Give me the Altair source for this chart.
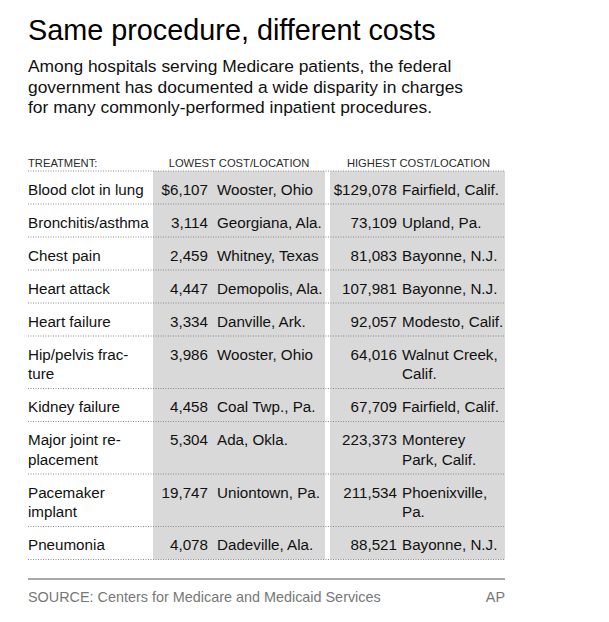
import altair as alt
import pandas as pd

# ---------------- data ----------------
title_text = "Same procedure, different costs"
subtitle_lines = [
    "Among hospitals serving Medicare patients, the federal",
    "government has documented a wide disparity in charges",
    "for many commonly-performed inpatient procedures.",
]
header_labels = ["TREATMENT:", "LOWEST COST/LOCATION", "HIGHEST COST/LOCATION"]

treatments = [
    "Blood clot in lung", "Bronchitis/asthma", "Chest pain", "Heart attack",
    "Heart failure", "Hip/pelvis frac-\nture", "Kidney failure",
    "Major joint re-\nplacement", "Pacemaker\nimplant", "Pneumonia",
]
lowest_cost = [6107, 3114, 2459, 4447, 3334, 3986, 4458, 5304, 19747, 4078]
lowest_loc = [
    "Wooster, Ohio", "Georgiana, Ala.", "\u00a0Whitney, Texas", "Demopolis, Ala.",
    "Danville, Ark.", "Wooster, Ohio", "Coal Twp., Pa.", "Ada, Okla.",
    "Uniontown, Pa.", "Dadeville, Ala.",
]
highest_cost = [129078, 73109, 81083, 107981, 92057, 64016, 67709, 223373, 211534, 88521]
highest_loc = [
    "Fairfield, Calif.", "Upland, Pa.", "Bayonne, N.J.", "Bayonne, N.J.",
    "Modesto, Calif.", "Walnut Creek,\nCalif.", "Fairfield, Calif.",
    "Monterey\nPark, Calif.", "Phoenixville,\nPa.", "Bayonne, N.J.",
]
source_text = "SOURCE: Centers for Medicare and Medicaid Services"
credit_text = "AP"

# ---------------- layout ----------------
W, H, OFF = 593, 606, 8
FONT = "Liberation Sans, Arial, Helvetica, sans-serif"

LEFT, RIGHT = 28, 505
TABLE_TOP = 171
SINGLE_H, DOUBLE_H = 33, 52.5
FIRST_BASE, LINE_STEP = 23.5, 19.5
X_TREAT, X_LCOST, X_LLOC, X_HCOST, X_HLOC = 28, 208, 217, 397, 402
BAND1 = (153, 325)
BAND2 = (330, 505)
ROW_SIZE = 15.2

xs = alt.Scale(domain=[OFF, OFF + W], range=[0, W], nice=False, zero=False)
ys = alt.Scale(domain=[OFF, OFF + H], range=[0, H], nice=False, zero=False)


def fmt(v, first):
    return ("$" if first else "") + f"{v:,}"


left_cells, right_cells, rule_rows = [], [], [{"y": TABLE_TOP}]
top = TABLE_TOP
for i in range(len(treatments)):
    cells = [
        (treatments[i], X_TREAT, "L"),
        (fmt(lowest_cost[i], i == 0), X_LCOST, "R"),
        (lowest_loc[i], X_LLOC, "L"),
        (fmt(highest_cost[i], i == 0), X_HCOST, "R"),
        (highest_loc[i], X_HLOC, "L"),
    ]
    nlines = max(len(c[0].split("\n")) for c in cells)
    for txt, xp, al in cells:
        for k, line in enumerate(txt.split("\n")):
            rec = {"x": xp, "y": top + FIRST_BASE + LINE_STEP * k, "t": line}
            (left_cells if al == "L" else right_cells).append(rec)
    top += SINGLE_H if nlines == 1 else DOUBLE_H
    rule_rows.append({"y": top})
TABLE_BOTTOM = top

bands = pd.DataFrame([
    {"x": BAND1[0], "x2": BAND1[1], "y": TABLE_TOP, "y2": TABLE_BOTTOM},
    {"x": BAND2[0], "x2": BAND2[1], "y": TABLE_TOP, "y2": TABLE_BOTTOM},
])

band_layer = alt.Chart(bands).mark_rect(color="#d9d9d9").encode(
    x=alt.X("x:Q", scale=xs, axis=None), x2="x2:Q",
    y=alt.Y("y:Q", scale=ys, axis=None), y2="y2:Q",
)

rules = pd.DataFrame(rule_rows)
rules["x"], rules["x2"] = LEFT, RIGHT
rule_layer = alt.Chart(rules).mark_rule(
    color="#8a8a8a", strokeWidth=1.2, strokeDash=[1, 1.5]
).encode(
    x=alt.X("x:Q", scale=xs, axis=None), x2="x2:Q",
    y=alt.Y("y:Q", scale=ys, axis=None),
)


def text_layer(df, align, size, color="#111111", font=FONT, weight="normal"):
    return alt.Chart(pd.DataFrame(df)).mark_text(
        align=align, baseline="alphabetic", fontSize=size, font=font,
        color=color, fontWeight=weight,
    ).encode(
        x=alt.X("x:Q", scale=xs, axis=None),
        y=alt.Y("y:Q", scale=ys, axis=None),
        text="t:N",
    )


cells_left = text_layer(left_cells, "left", ROW_SIZE)
cells_right = text_layer(right_cells, "right", ROW_SIZE)

title_layer = text_layer([{"x": LEFT, "y": 39.5, "t": title_text}], "left", 28.8, "#000000")
sub_layer = text_layer(
    [{"x": LEFT, "y": 72 + 20.7 * k, "t": s} for k, s in enumerate(subtitle_lines)],
    "left", 17.4, "#111111",
)

hdr_left = text_layer([{"x": LEFT, "y": 166.5, "t": header_labels[0]}], "left", 11.2, "#2a2a2a")
hdr_center = text_layer(
    [
        {"x": (BAND1[0] + BAND1[1]) / 2, "y": 166.5, "t": header_labels[1]},
        {"x": (BAND2[0] + BAND2[1]) / 2 + 1, "y": 166.5, "t": header_labels[2]},
    ],
    "center", 11.2, "#2a2a2a",
)

src_rule = alt.Chart(pd.DataFrame([{"x": LEFT, "x2": RIGHT, "y": 579}])).mark_rule(
    color="#8c8c8c", strokeWidth=1.6
).encode(
    x=alt.X("x:Q", scale=xs, axis=None), x2="x2:Q",
    y=alt.Y("y:Q", scale=ys, axis=None),
)
src_layer = text_layer([{"x": LEFT, "y": 602, "t": source_text}], "left", 14.4, "#777777")
ap_layer = text_layer([{"x": RIGHT, "y": 602, "t": credit_text}], "right", 14.4, "#777777")

chart = alt.layer(
    band_layer, rule_layer, cells_left, cells_right, title_layer, sub_layer,
    hdr_left, hdr_center, src_rule, src_layer, ap_layer,
).properties(
    width=W, height=H, padding=0, autosize=alt.AutoSizeParams(type="none"),
    background="#ffffff",
).configure_view(stroke=None)

chart.save("out.html", embed_options={"renderer": "svg", "actions": False})
